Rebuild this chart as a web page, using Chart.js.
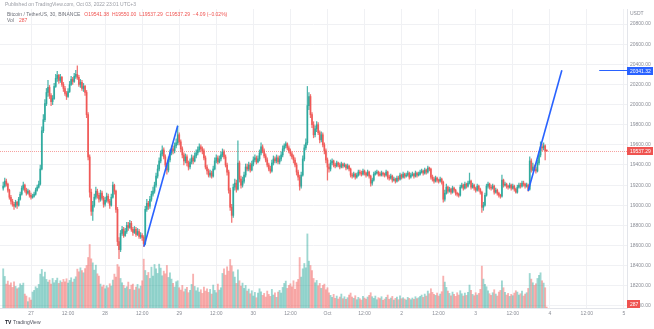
<!DOCTYPE html>
<html>
<head>
<meta charset="utf-8">
<script src="https://cdn.jsdelivr.net/npm/chart.js@4.4.0/dist/chart.umd.min.js"></script>
<style>
  html, body { margin: 0; padding: 0; background: #ffffff; }
  #wrap { width: 654px; height: 329px; position: relative; }
</style>
</head>
<body>
<div id="wrap"><canvas id="c" width="654" height="329"></canvas></div>
<script>
// BTC/USDT, 30-minute candles, Sep 26 15:00 -> Oct 3 23:00 (UTC+3).
// Time is measured in hours from Sep 27 00:00.
const firstCandleHour = -9;
const candleHours = 0.5;

const opens = [
  19170,19190,19240,19210,19150,19080,19040,19010,18990,19030,
  19000,19060,19110,19170,19200,19150,19120,19140,19100,19080,
  19090,19110,19150,19180,19210,19360,19740,19850,20010,20120,
  20170,20090,20030,20060,20180,20260,20290,20240,20270,20200,
  20160,20110,20080,20130,20200,20250,20230,20280,20300,20270,
  20200,20220,20160,20180,20120,19900,19480,19130,18940,19000,
  19080,19140,19100,19060,19120,19070,19010,19050,19090,19040,
  19000,19080,19200,19140,18960,18640,18560,18720,18760,18700,
  18740,18800,18780,18820,18760,18730,18760,18710,18740,18690,
  18700,18680,18620,18960,19020,18990,19060,19110,19140,19200,
  19290,19360,19440,19510,19550,19480,19400,19350,19450,19520,
  19560,19540,19590,19620,19700,19630,19560,19500,19440,19480,
  19420,19380,19430,19470,19440,19490,19520,19550,19580,19560,
  19540,19470,19380,19340,19300,19320,19290,19360,19440,19470,
  19430,19460,19500,19530,19480,19400,19330,19150,18980,18900,
  19180,19220,19160,19420,19260,19200,19240,19300,19380,19360,
  19400,19350,19410,19450,19470,19430,19460,19520,19580,19540,
  19490,19450,19400,19360,19340,19420,19460,19440,19470,19430,
  19460,19500,19560,19590,19610,19570,19540,19510,19480,19450,
  19400,19330,19280,19190,19300,19460,19570,19620,19990,20080,
  19900,19800,19700,19760,19800,19720,19650,19700,19600,19540,
  19450,19380,19360,19420,19440,19400,19390,19420,19400,19380,
  19410,19390,19400,19370,19390,19360,19300,19290,19310,19280,
  19300,19330,19320,19310,19340,19320,19300,19330,19290,19220,
  19250,19310,19320,19330,19310,19300,19320,19310,19300,19330,
  19280,19270,19290,19250,19260,19240,19270,19260,19300,19280,
  19310,19290,19300,19320,19280,19300,19310,19290,19320,19300,
  19310,19330,19340,19320,19350,19330,19370,19360,19280,19260,
  19240,19270,19250,19240,19260,19230,19060,19120,19180,19140,
  19160,19130,19170,19150,19120,19110,19100,19180,19200,19170,
  19210,19190,19220,19240,19180,19200,19170,19150,19190,19160,
  19130,18980,19000,19100,19190,19210,19180,19170,19190,19130,
  19150,19120,19100,19090,19250,19200,19210,19190,19180,19200,
  19170,19190,19160,19130,19180,19200,19190,19220,19210,19190,
  19200,19160,19440,19350,19380,19360,19340,19420,19500,19580,
  19570,19590,19541.38
];
const highs = [
  19230,19270,19260,19220,19160,19100,19060,19030,19050,19040,
  19080,19130,19190,19230,19210,19170,19160,19150,19120,19110,
  19130,19170,19200,19240,19400,19780,19900,20050,20160,20240,
  20190,20110,20090,20210,20300,20330,20300,20300,20280,20220,
  20180,20130,20160,20230,20280,20270,20310,20340,20385,20290,
  20250,20240,20210,20190,20140,19920,19500,19160,19040,19110,
  19180,19160,19120,19150,19140,19090,19080,19120,19110,19060,
  19110,19230,19210,19150,18980,18680,18750,18790,18780,18770,
  18830,18830,18850,18840,18780,18790,18780,18770,18760,18730,
  18720,18700,18990,19060,19040,19090,19140,19180,19230,19320,
  19400,19470,19540,19590,19570,19500,19420,19480,19550,19590,
  19590,19620,19660,19790,19720,19650,19580,19520,19510,19500,
  19440,19460,19500,19490,19520,19550,19580,19610,19600,19580,
  19560,19490,19400,19360,19350,19340,19390,19470,19500,19490,
  19490,19530,19560,19550,19500,19420,19350,19170,19010,19210,
  19260,19250,19640,19440,19290,19280,19330,19410,19410,19430,
  19420,19440,19480,19500,19490,19490,19550,19620,19600,19560,
  19510,19470,19420,19390,19450,19490,19480,19500,19490,19490,
  19530,19590,19610,19630,19620,19590,19560,19530,19500,19470,
  19420,19350,19300,19330,19490,19600,19660,20180,20120,20100,
  19920,19830,19790,19830,19820,19740,19730,19720,19620,19560,
  19470,19410,19450,19460,19450,19420,19440,19430,19420,19430,
  19420,19420,19410,19410,19400,19370,19320,19330,19320,19320,
  19350,19350,19340,19360,19350,19330,19350,19340,19300,19270,
  19330,19340,19350,19340,19330,19340,19330,19320,19350,19340,
  19300,19310,19300,19280,19270,19290,19290,19320,19310,19330,
  19320,19320,19340,19330,19320,19330,19320,19340,19330,19330,
  19350,19360,19350,19370,19360,19390,19380,19370,19300,19280,
  19290,19280,19260,19280,19270,19240,19150,19210,19190,19180,
  19170,19190,19180,19160,19130,19120,19200,19220,19210,19230,
  19220,19240,19320,19250,19220,19210,19180,19210,19200,19170,
  19140,19030,19120,19210,19230,19220,19200,19210,19200,19170,
  19160,19130,19110,19300,19260,19230,19220,19200,19220,19210,
  19210,19200,19170,19200,19220,19220,19240,19240,19220,19220,
  19210,19480,19460,19420,19400,19380,19450,19530,19630,19610,
  19620,19600,19550
];
const lows = [
  19150,19180,19190,19130,19060,19010,18990,18960,18980,18970,
  18990,19050,19100,19150,19130,19100,19110,19080,19060,19070,
  19080,19100,19140,19170,19200,19350,19720,19830,19990,20080,
  20060,19990,20000,20050,20170,20230,20210,20220,20180,20130,
  20090,20050,20070,20120,20190,20200,20220,20260,20250,20180,
  20170,20140,20130,20090,19870,19450,19080,18900,18850,18980,
  19060,19070,19030,19040,19050,18980,18990,19030,19020,18970,
  18990,19070,19110,18930,18600,18470,18540,18700,18680,18690,
  18720,18750,18770,18740,18700,18720,18690,18700,18670,18670,
  18650,18590,18610,18940,18960,18970,19040,19090,19120,19180,
  19270,19340,19420,19490,19460,19380,19310,19330,19430,19500,
  19510,19520,19570,19600,19600,19530,19470,19400,19420,19390,
  19350,19360,19410,19410,19430,19470,19500,19530,19530,19510,
  19450,19360,19310,19280,19280,19270,19280,19350,19420,19410,
  19420,19440,19480,19460,19380,19300,19120,18950,18830,18880,
  19150,19130,19150,19230,19170,19180,19220,19280,19340,19340,
  19330,19340,19390,19430,19410,19420,19440,19500,19520,19470,
  19430,19380,19340,19320,19330,19400,19420,19420,19410,19410,
  19440,19480,19540,19570,19550,19520,19490,19460,19420,19380,
  19300,19250,19150,19170,19290,19440,19550,19600,19950,19870,
  19770,19670,19680,19730,19700,19620,19630,19580,19510,19420,
  19250,19330,19340,19400,19380,19370,19380,19380,19360,19370,
  19370,19380,19350,19360,19340,19280,19270,19280,19260,19270,
  19290,19300,19290,19300,19300,19280,19290,19270,19190,19200,
  19240,19300,19310,19290,19290,19290,19290,19280,19290,19260,
  19250,19260,19230,19240,19220,19230,19240,19250,19260,19270,
  19270,19280,19290,19260,19270,19290,19270,19280,19280,19290,
  19300,19320,19300,19310,19310,19320,19340,19260,19240,19220,
  19230,19230,19220,19230,19210,19030,19040,19110,19120,19130,
  19110,19120,19130,19100,19090,19080,19090,19170,19150,19160,
  19170,19180,19210,19160,19170,19150,19130,19140,19140,19110,
  18930,18950,18990,19090,19170,19160,19150,19160,19110,19120,
  19100,19080,19070,19080,19180,19190,19170,19160,19170,19150,
  19160,19140,19120,19120,19170,19170,19180,19190,19170,19180,
  19140,19150,19330,19340,19340,19320,19330,19400,19480,19540,
  19550,19450,19537.29
];
const closes = [
  19190,19240,19210,19150,19080,19040,19010,18990,19030,19000,
  19060,19110,19170,19200,19150,19120,19140,19100,19080,19090,
  19110,19150,19180,19210,19360,19740,19850,20010,20120,20170,
  20090,20030,20060,20180,20260,20290,20240,20270,20200,20160,
  20110,20080,20130,20200,20250,20230,20280,20300,20270,20200,
  20220,20160,20180,20120,19900,19480,19130,18940,19000,19080,
  19140,19100,19060,19120,19070,19010,19050,19090,19040,19000,
  19080,19200,19140,18960,18640,18560,18720,18760,18700,18740,
  18800,18780,18820,18760,18730,18760,18710,18740,18690,18700,
  18680,18620,18960,19020,18990,19060,19110,19140,19200,19290,
  19360,19440,19510,19550,19480,19400,19350,19450,19520,19560,
  19540,19590,19620,19700,19630,19560,19500,19440,19480,19420,
  19380,19430,19470,19440,19490,19520,19550,19580,19560,19540,
  19470,19380,19340,19300,19320,19290,19360,19440,19470,19430,
  19460,19500,19530,19480,19400,19330,19150,18980,18900,19180,
  19220,19160,19420,19260,19200,19240,19300,19380,19360,19400,
  19350,19410,19450,19470,19430,19460,19520,19580,19540,19490,
  19450,19400,19360,19340,19420,19460,19440,19470,19430,19460,
  19500,19560,19590,19610,19570,19540,19510,19480,19450,19400,
  19330,19280,19190,19300,19460,19570,19620,19990,20080,19900,
  19800,19700,19760,19800,19720,19650,19700,19600,19540,19450,
  19380,19360,19420,19440,19400,19390,19420,19400,19380,19410,
  19390,19400,19370,19390,19360,19300,19290,19310,19280,19300,
  19330,19320,19310,19340,19320,19300,19330,19290,19220,19250,
  19310,19320,19330,19310,19300,19320,19310,19300,19330,19280,
  19270,19290,19250,19260,19240,19270,19260,19300,19280,19310,
  19290,19300,19320,19280,19300,19310,19290,19320,19300,19310,
  19330,19340,19320,19350,19330,19370,19360,19280,19260,19240,
  19270,19250,19240,19260,19230,19060,19120,19180,19140,19160,
  19130,19170,19150,19120,19110,19100,19180,19200,19170,19210,
  19190,19220,19240,19180,19200,19170,19150,19190,19160,19130,
  18980,19000,19100,19190,19210,19180,19170,19190,19130,19150,
  19120,19100,19090,19250,19200,19210,19190,19180,19200,19170,
  19190,19160,19130,19180,19200,19190,19220,19210,19190,19200,
  19160,19440,19350,19380,19360,19340,19420,19500,19580,19570,
  19590,19541.38,19537.29
];
// Volume in BTC per candle
const volumes = [
  11800,9500,7200,8100,6900,7600,6200,7900,6500,5800,
  6100,7300,6800,7500,4200,3600,1900,3100,2400,4800,
  5300,6400,5900,7100,10200,11600,9400,10800,8600,7800,
  8400,7200,8900,7600,8300,9000,7400,8200,7700,8600,
  7900,8800,7500,8300,9100,7800,8700,9400,11700,10900,
  12100,11300,10600,11900,12800,15200,19100,14800,13600,11400,
  12900,10300,9600,7200,6400,6900,5800,6700,6100,7300,
  6600,8400,10200,9300,13100,12400,8900,7600,6800,5900,
  6400,7800,5600,6900,7200,5400,6300,7100,5800,6600,
  8200,14700,11300,9800,10700,8900,12300,9600,13100,11800,
  10400,13200,12000,9700,11100,10300,12800,9200,10600,8700,
  7400,6300,7900,8200,6100,5400,6800,4900,5700,6200,
  4600,5300,7100,10200,6500,5200,6100,4800,5500,4400,
  6300,5100,5800,4700,5600,4200,6900,5300,4600,7200,
  5400,6100,10400,11800,9900,12400,11100,14600,12700,10900,
  9300,7400,11500,8200,6600,7500,5900,6800,5100,5700,
  4300,5200,3600,4700,3100,4500,5800,4900,3800,4400,
  3300,5100,4100,3500,5600,3900,4600,3200,4800,5300,
  4500,6200,7400,8100,5900,6800,7300,6400,8200,5600,
  7800,8600,15200,9300,11800,13400,12100,22300,14100,12800,
  11300,8900,7600,8300,6700,7400,5900,6800,7200,5500,
  6100,4600,3800,3200,4100,2900,3600,2700,3300,4200,
  2800,3400,2600,3100,3900,4500,3300,2900,3700,2500,
  3200,2800,2400,3500,3000,2700,3300,3800,4600,3400,
  2900,3600,2500,3100,2800,3400,2300,2700,3200,3900,
  2600,3000,3500,2400,2900,3300,2500,3700,2800,3100,
  2700,2400,3200,2900,2500,3000,2600,3400,2800,3100,
  3500,3900,3200,4200,3600,5100,4300,5800,4700,4100,
  3800,4500,3600,4200,4900,9600,7800,6200,5100,4400,
  3700,4800,4100,3500,4600,3900,5200,4300,3600,4500,
  3800,4700,6900,5300,4100,3700,4600,3900,4400,5600,
  12600,8700,7100,6400,5200,4300,3800,4600,5500,4200,
  3600,4800,5300,8200,6100,4700,3900,4400,3500,4100,
  3700,4500,5200,4800,3900,4300,5100,3600,4200,4600,
  5900,10400,8700,7600,6800,7300,8900,9800,10600,8200,
  7500,6100,287
];

// Time axis: a label every 12 hours
const timeTicks = [0,12,24,36,48,60,72,84,96,108,120,132,144,156,168,180,192];
const timeLabels = ['27','12:00','28','12:00','29','12:00','30','12:00','Oct','12:00','2','12:00','3','12:00','4','12:00','5'];
// Price axis
const priceTicks = [18000,18200,18400,18600,18800,19000,19200,19400,19600,19800,20000,20200,20400,20600,20800];

// Two parallel trend lines: [hour, price] end points
const trendA = [[36.6, 18590], [47.5, 19790]];
const trendB = [[161.0, 19141.32], [171.9, 20341.32]];
const trendMarkerFromHour = 184;

const lastPrice = closes[closes.length - 1];
const lastVolume = volumes[volumes.length - 1];

const UP = 'rgba(38,166,154,0.82)', DOWN = 'rgba(239,83,80,0.82)';
const UP_VOL = 'rgba(38,166,154,0.45)', DOWN_VOL = 'rgba(239,83,80,0.45)';
const FONT = '"Liberation Sans", Arial, sans-serif';
const TEXT = '#8a8d96';

const hourAt = i => firstCandleHour + candleHours * i;
const isUp = i => closes[i] >= opens[i];

const wickData = closes.map((c, i) => ({ x: hourAt(i), y: [lows[i], highs[i]] }));
const bodyData = closes.map((c, i) => ({ x: hourAt(i), y: [Math.min(opens[i], c), Math.max(opens[i], c)] }));
const volData = volumes.map((v, i) => ({ x: hourAt(i), y: v }));
const candleColors = closes.map((c, i) => isUp(i) ? UP : DOWN);
const volColors = closes.map((c, i) => isUp(i) ? UP_VOL : DOWN_VOL);

function tag(ctx, left, yCenter, w, bg, text) {
  ctx.fillStyle = bg;
  ctx.fillRect(left, Math.round(yCenter) - 4, w, 8);
  ctx.fillStyle = '#ffffff';
  ctx.font = '5px ' + FONT;
  ctx.textBaseline = 'middle';
  ctx.textAlign = 'left';
  ctx.fillText(text, left + 3, Math.round(yCenter) + 0.5);
}

const overlay = {
  id: 'overlay',
  beforeDatasetsDraw(chart) {
    const { ctx, chartArea: a, scales } = chart;
    const py = Math.round(scales.y.getPixelForValue(lastPrice)) + 0.5;
    ctx.save();
    ctx.strokeStyle = 'rgba(239,83,80,0.55)';
    ctx.lineWidth = 1;
    ctx.setLineDash([1, 1]);
    ctx.beginPath();
    ctx.moveTo(a.left, py);
    ctx.lineTo(a.right, py);
    ctx.stroke();
    ctx.restore();
  },
  afterDraw(chart) {
    const { ctx, chartArea: a, scales } = chart;
    ctx.save();
    // trend line price marker
    const tEnd = trendB[1][1];
    const ty = Math.round(scales.y.getPixelForValue(tEnd)) + 0.5;
    ctx.strokeStyle = '#2962ff';
    ctx.lineWidth = 1;
    ctx.beginPath();
    ctx.moveTo(scales.x.getPixelForValue(trendMarkerFromHour), ty);
    ctx.lineTo(a.right, ty);
    ctx.stroke();
    tag(ctx, a.right, ty, 26, '#2962ff', tEnd.toFixed(2));
    // last price
    tag(ctx, a.right, scales.y.getPixelForValue(lastPrice), 26, '#ef5350', lastPrice.toFixed(2));
    // last volume
    const vy = Math.min(scales.yv.getPixelForValue(lastVolume), a.bottom - 4);
    tag(ctx, a.right, vy, 13, '#ef5350', String(lastVolume));
    // currency
    ctx.fillStyle = TEXT;
    ctx.font = '5px ' + FONT;
    ctx.textBaseline = 'middle';
    ctx.textAlign = 'left';
    ctx.fillText('USDT', a.right + 3, 14);

    // header
    ctx.fillStyle = '#9a9ca4';
    ctx.fillText('Published on TradingView.com, Oct 03, 2022 23:01 UTC+3', 5, 5);
    ctx.fillStyle = '#6f727b';
    const title = 'Bitcoin / TetherUS, 30, BINANCE';
    ctx.fillText(title, 7, 15);
    const w = ctx.measureText(title).width;
    ctx.fillStyle = '#ef5350';
    const o = opens[opens.length - 1], h = highs[highs.length - 1], l = lows[lows.length - 1];
    const chg = lastPrice - closes[closes.length - 2];
    const pct = chg / closes[closes.length - 2] * 100;
    ctx.fillText('O' + o.toFixed(2) + '  H' + h.toFixed(2) + '  L' + l.toFixed(2) + '  C' + lastPrice.toFixed(2) +
      '  ' + (chg < 0 ? '\u2212' : '+') + Math.abs(chg).toFixed(2) + ' (' + (pct < 0 ? '\u2212' : '+') + Math.abs(pct).toFixed(2) + '%)', 7 + w + 4, 15);
    ctx.fillStyle = '#6f727b';
    ctx.fillText('Vol', 7, 21);
    ctx.fillStyle = '#ef5350';
    ctx.fillText(String(lastVolume), 19, 21);

    // footer
    ctx.fillStyle = '#131722';
    ctx.font = 'bold 5px ' + FONT;
    ctx.fillText('TV', 5, 323);
    ctx.font = '5px ' + FONT;
    ctx.fillStyle = '#50535e';
    ctx.fillText('TradingView', 13, 323);
    ctx.restore();
  }
};

new Chart(document.getElementById('c'), {
  type: 'bar',
  data: {
    datasets: [
      { type: 'line', data: trendA.map(p => ({ x: p[0], y: p[1] })), borderColor: '#2962ff', borderWidth: 1.6,
        pointRadius: 0, tension: 0, order: 1, yAxisID: 'y' },
      { type: 'line', data: trendB.map(p => ({ x: p[0], y: p[1] })), borderColor: '#2962ff', borderWidth: 1.6,
        pointRadius: 0, tension: 0, order: 1, yAxisID: 'y' },
      { data: bodyData, backgroundColor: candleColors, barThickness: 1.1, minBarLength: 1, grouped: false,
        order: 2, yAxisID: 'y' },
      { data: wickData, backgroundColor: candleColors, barThickness: 0.6, grouped: false, order: 3, yAxisID: 'y' },
      { data: volData, backgroundColor: volColors, barThickness: 1.2, grouped: false, order: 5, yAxisID: 'yv' }
    ]
  },
  options: {
    responsive: false,
    animation: false,
    devicePixelRatio: 1,
    layout: { padding: { top: 9, bottom: 10, left: 0, right: 0 } },
    plugins: { legend: { display: false }, tooltip: { enabled: false } },
    scales: {
      x: {
        type: 'linear', min: -10.04, max: 193, offset: false, position: 'bottom',
        afterBuildTicks(s) { s.ticks = timeTicks.map(v => ({ value: v })); },
        afterFit(s) { s.height = 11; },
        grid: { color: '#f0f1f4', drawTicks: false, offset: false },
        border: { color: '#e3e5ea' },
        ticks: { autoSkip: false, maxRotation: 0, padding: 3, color: TEXT, font: { size: 5, family: FONT },
          callback: (v, i) => timeLabels[i] }
      },
      y: {
        type: 'linear', position: 'right', min: 17980, max: 20949,
        afterBuildTicks(s) { s.ticks = priceTicks.map(v => ({ value: v })); },
        afterFit(s) { s.width = 27; },
        grid: { color: '#f0f1f4', drawTicks: false },
        border: { color: '#e3e5ea' },
        ticks: { padding: 3, color: TEXT, font: { size: 5, family: FONT }, callback: v => v.toFixed(2) }
      },
      yv: { type: 'linear', display: false, min: 0, max: 90000 }
    }
  },
  plugins: [overlay]
});
</script>
</body>
</html>
